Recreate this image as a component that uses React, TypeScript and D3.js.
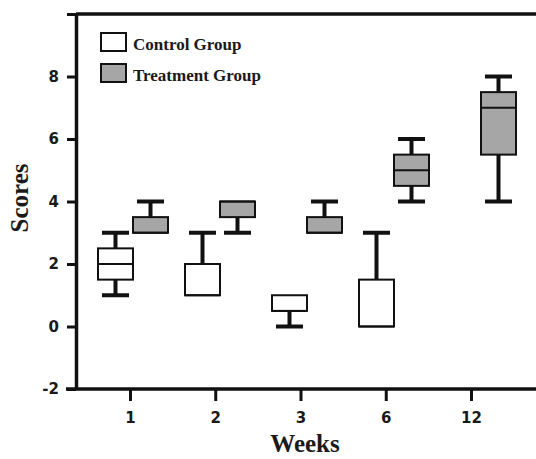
import React, { useRef, useEffect } from "react";
import * as d3 from "d3";

const weeks = ["1", "2", "3", "6", "12"];

const controlMin = [1, 1, 0, 0, 0];
const controlQ1 = [1.5, 1, 0.5, 0, 0];
const controlMedian = [2, 1, 0.5, 0, 0];
const controlQ3 = [2.5, 2, 1, 1.5, 0];
const controlMax = [3, 3, 1, 3, 0];

const treatmentMin = [3, 3, 3, 4, 4];
const treatmentQ1 = [3, 3.5, 3, 4.5, 5.5];
const treatmentMedian = [3, 4, 3, 5, 7];
const treatmentQ3 = [3.5, 4, 3.5, 5.5, 7.5];
const treatmentMax = [4, 4, 4, 6, 8];

const yTicks = [-2, 0, 2, 4, 6, 8, 10];

const App = () => {
  const svgRef = useRef<SVGSVGElement>(null);

  useEffect(() => {
    const svg = d3.select(svgRef.current);
    svg.selectAll("*").remove();

    const width = 536;
    const left = 76;
    const top = 14;
    const bottom = 389;

    const y = d3.scaleLinear().domain([-2, 10]).range([bottom, top]);
    // group centres for the boxes, and where the axis ticks sit
    const x = d3.scalePoint().domain(weeks).range([133, 481]);
    const xTick = d3.scalePoint().domain(weeks).range([130, 471]);

    const boxW = 35;
    const capW = 27;
    const ink = "#111";
    const numFont = "'DejaVu Sans', Verdana, sans-serif";
    const serif = "'Liberation Serif', 'Times New Roman', serif";

    const series = [
      { name: "Control Group", fill: "#ffffff", offset: -boxW / 2, min: controlMin, q1: controlQ1, med: controlMedian, q3: controlQ3, max: controlMax },
      { name: "Treatment Group", fill: "#a6a6a6", offset: boxW / 2, min: treatmentMin, q1: treatmentQ1, med: treatmentMedian, q3: treatmentQ3, max: treatmentMax },
    ];

    series.forEach((s) => {
      const g = svg.append("g");
      weeks.forEach((w, i) => {
        const cx = (x(w) as number) + s.offset;
        const flat = s.q1[i] === s.q3[i];
        // whiskers (skipped when they have no length)
        const whisk = [
          [s.q3[i], s.max[i]],
          [s.q1[i], s.min[i]],
        ];
        whisk.forEach(([from, to]) => {
          if (from === to) return;
          g.append("line")
            .attr("x1", cx).attr("x2", cx)
            .attr("y1", y(from)).attr("y2", y(to))
            .attr("stroke", ink).attr("stroke-width", 4);
          g.append("line")
            .attr("x1", cx - capW / 2).attr("x2", cx + capW / 2)
            .attr("y1", y(to)).attr("y2", y(to))
            .attr("stroke", ink).attr("stroke-width", 4);
        });
        g.append("rect")
          .attr("x", cx - boxW / 2)
          .attr("y", y(s.q3[i]))
          .attr("width", boxW)
          .attr("height", Math.max(0, y(s.q1[i]) - y(s.q3[i])))
          .attr("fill", s.fill)
          .attr("stroke", ink)
          .attr("stroke-width", flat ? 4 : 2);
        if (!flat) {
          g.append("line")
            .attr("x1", cx - boxW / 2).attr("x2", cx + boxW / 2)
            .attr("y1", y(s.med[i])).attr("y2", y(s.med[i]))
            .attr("stroke", ink).attr("stroke-width", 2);
        }
      });
    });

    // axes
    const axisY = svg.append("g")
      .attr("transform", `translate(${left},0)`)
      .call(d3.axisLeft(y).tickValues(yTicks).tickSize(9).tickSizeOuter(0).tickPadding(8)
        .tickFormat((d) => (+d === 10 ? "" : String(d))));
    axisY.select(".domain").attr("stroke", ink).attr("stroke-width", 3.5);
    axisY.selectAll(".tick line").attr("stroke", ink).attr("stroke-width", 3);
    axisY.selectAll("text")
      .attr("fill", "#1a1a1a")
      .style("font-family", numFont)
      .style("font-weight", "bold")
      .style("font-size", "15px");

    const axisX = svg.append("g")
      .attr("transform", `translate(0,${bottom})`)
      .call(d3.axisBottom(xTick).tickSize(12).tickSizeOuter(0).tickPadding(11));
    axisX.select(".domain").remove();
    axisX.selectAll(".tick line").attr("stroke", ink).attr("stroke-width", 3);
    axisX.selectAll("text")
      .attr("fill", "#1a1a1a")
      .style("font-family", numFont)
      .style("font-weight", "bold")
      .style("font-size", "15px");

    svg.append("line")
      .attr("x1", left - 10).attr("x2", width)
      .attr("y1", bottom).attr("y2", bottom)
      .attr("stroke", ink).attr("stroke-width", 3.5);
    svg.append("line")
      .attr("x1", left).attr("x2", width)
      .attr("y1", top).attr("y2", top)
      .attr("stroke", ink).attr("stroke-width", 3.5);

    // titles
    svg.append("text")
      .attr("x", 305).attr("y", 452)
      .attr("text-anchor", "middle")
      .style("font-family", serif)
      .style("font-weight", "bold")
      .style("font-size", "25px")
      .attr("fill", "#1a1a1a")
      .text("Weeks");
    svg.append("text")
      .attr("transform", `translate(28,198) rotate(-90)`)
      .attr("text-anchor", "middle")
      .style("font-family", serif)
      .style("font-weight", "bold")
      .style("font-size", "25px")
      .attr("fill", "#1a1a1a")
      .text("Scores");

    // legend
    series.forEach((s, i) => {
      const ly = 33 + i * 31;
      svg.append("rect")
        .attr("x", 101).attr("y", ly)
        .attr("width", 25).attr("height", 18)
        .attr("fill", s.fill).attr("stroke", ink).attr("stroke-width", 2);
      svg.append("text")
        .attr("x", 133).attr("y", ly + 17)
        .style("font-family", serif)
        .style("font-weight", "bold")
        .style("font-size", "17px")
        .attr("fill", "#1a1a1a")
        .text(s.name);
    });
  }, []);

  return (
    <div style={{ position: "absolute", left: 0, top: 0 }}>
      <svg ref={svgRef} width={536} height={459} style={{ display: "block", background: "#fff" }}></svg>
    </div>
  );
};

export default App;
